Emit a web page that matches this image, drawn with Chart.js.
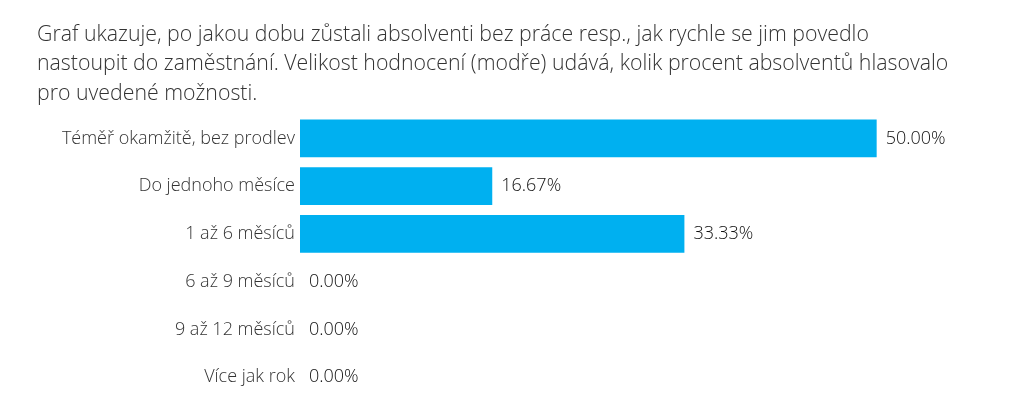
<!DOCTYPE html>
<html lang="cs">
<head>
    <meta charset="UTF-8">
    <title>Doba bez práce po absolvování</title>
    <style>
        body {
            margin: 0;
            background: #fff;
        }
        canvas {
            display: block;
        }
    </style>
</head>
<body>
    <canvas id="graf" width="1024" height="407"></canvas>
    <script src="https://cdn.jsdelivr.net/npm/chart.js"></script>
    <script>
        const titleLines = [
            "Graf ukazuje, po jakou dobu zůstali absolventi bez práce resp., jak rychle se jim povedlo",
            "nastoupit do zaměstnání. Velikost hodnocení (modře) udává, kolik procent absolventů hlasovalo",
            "pro uvedené možnosti."
        ];
        const categories = ["Téměř okamžitě, bez prodlev", "Do jednoho měsíce", "1 až 6 měsíců", "6 až 9 měsíců", "9 až 12 měsíců", "Více jak rok"];
        const percentages = [50.00, 16.67, 33.33, 0.00, 0.00, 0.00];

        const fontFamily = "'Open Sans', 'Segoe UI', sans-serif";

        // popisky hodnot za koncem sloupce
        const valueLabels = {
            id: "valueLabels",
            afterDatasetsDraw(chart) {
                const ctx = chart.ctx;
                const meta = chart.getDatasetMeta(0);
                ctx.save();
                ctx.font = "300 18px " + fontFamily;
                ctx.fillStyle = "#111";
                ctx.textAlign = "left";
                ctx.textBaseline = "middle";
                meta.data.forEach((bar, i) => {
                    ctx.fillText(percentages[i].toFixed(2) + "%", bar.x + 9, bar.y);
                });
                ctx.restore();
            }
        };

        const ctx = document.getElementById("graf").getContext("2d");
        new Chart(ctx, {
            type: "bar",
            data: {
                labels: categories,
                datasets: [{
                    data: percentages,
                    backgroundColor: "#00B0F0",
                    borderWidth: 0,
                    categoryPercentage: 1.0,
                    barPercentage: 0.79
                }]
            },
            plugins: [valueLabels],
            options: {
                indexAxis: "y",
                responsive: false,
                animation: false,
                layout: { padding: { left: 37, right: 32, top: 0, bottom: 6 } },
                plugins: {
                    legend: { display: false },
                    tooltip: { enabled: false },
                    title: {
                        display: true,
                        text: titleLines,
                        align: "start",
                        color: "#333",
                        font: { family: fontFamily, size: 21.3, weight: "300", lineHeight: 1.385 },
                        padding: { top: 20, bottom: 6 }
                    }
                },
                scales: {
                    x: {
                        display: false,
                        min: 0,
                        max: 60
                    },
                    y: {
                        grid: { display: false, drawTicks: false },
                        border: { display: false },
                        afterFit: (scale) => {
                            scale.width = 263;
                            scale.paddingTop = 0;
                            scale.paddingBottom = 0;
                        },
                        ticks: {
                            color: "#333",
                            padding: 5,
                            font: { family: fontFamily, size: 18, weight: "300" }
                        }
                    }
                }
            }
        });
    </script>
</body>
</html>
